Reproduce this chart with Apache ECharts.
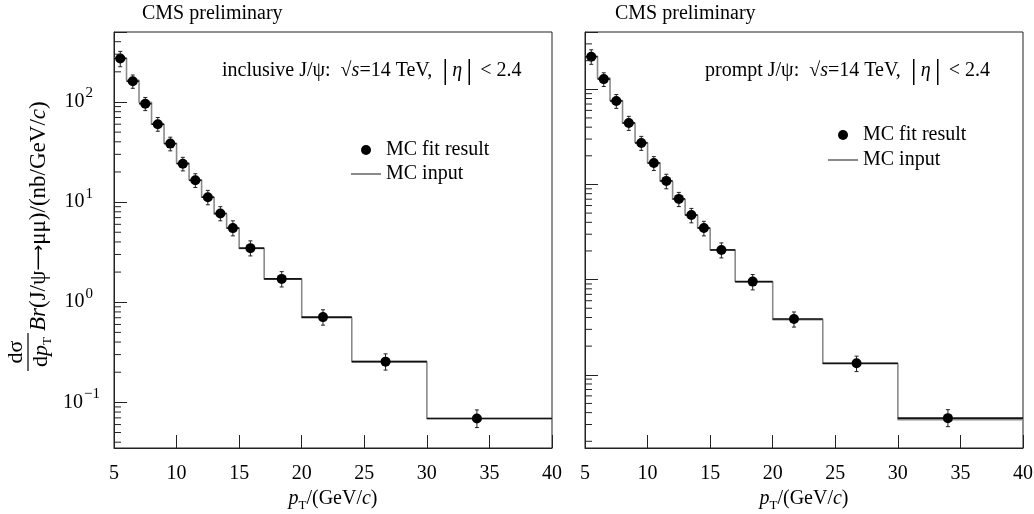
<!DOCTYPE html>
<html><head><meta charset="utf-8">
<script src="https://cdn.jsdelivr.net/npm/echarts@6/dist/echarts.min.js"></script>
<style>html,body{margin:0;padding:0;background:#fff}#c{width:1034px;height:514px}</style>
</head><body><div id="c"></div>
<script>
// ---- data ----
const binEdges = [5,6,7,8,9,10,11,12,13,14,15,17,20,24,30,40];
const meanPt = [5.5,6.5,7.5,8.5,9.5,10.5,11.5,12.5,13.5,14.5,15.9,18.4,21.7,26.7,34.0];

const inclFit   = [272,161,96,60,38.4,24.2,16.5,11.2,7.7,5.5,3.47,1.71,0.71,0.255,0.069];
const inclFitLo = [225,137,82,51,32.5,20.5,14.0,9.4,6.5,4.6,2.9,1.42,0.59,0.21,0.056];
const inclFitHi = [320,186,111,70,44.5,28,19.2,13.1,9.0,6.5,4.1,2.02,0.84,0.305,0.084];
const inclMC    = [275,165,99,60,38.5,24.5,16.6,11.2,7.6,5.5,3.45,1.70,0.70,0.255,0.069];

const promptFit   = [220,128,75.3,44.3,27.3,16.8,10.9,7.05,4.78,3.49,2.05,0.953,0.386,0.132,0.035];
const promptFitLo = [183,107,63,37,22.8,14.0,9.0,5.85,3.95,2.88,1.69,0.78,0.317,0.108,0.0285];
const promptFitHi = [260,149,88,52,32,19.6,12.8,8.25,5.6,4.1,2.43,1.13,0.457,0.157,0.043];
const promptMC    = [222,131,76,44,27.5,16.8,10.8,7.0,4.75,3.47,2.05,0.95,0.38,0.131,0.0338];

const xTickValues = [5,10,15,20,25,30,35,40];
const yRangeIncl = [0.035, 500];
const yRangePrompt = [0.017, 400];
const minorTicksIncl = [0.04,0.05,0.06,0.07,0.08,0.09,0.2,0.3,0.4,0.5,0.6,0.7,0.8,0.9,2,3,4,5,6,7,8,9,20,30,40,50,60,70,80,90,200,300,400];
const minorTicksPrompt = [0.02,0.03,0.04,0.05,0.06,0.07,0.08,0.09,0.2,0.3,0.4,0.5,0.6,0.7,0.8,0.9,2,3,4,5,6,7,8,9,20,30,40,50,60,70,80,90,200,300];

// ---- chart ----
const FONT = 'Liberation Serif';
const INK = '#000';
const chart = echarts.init(document.getElementById('c'));

function stepData(vals){
  const d = [];
  for (let i = 0; i < vals.length; i++) d.push([binEdges[i], vals[i]]);
  d.push([binEdges[binEdges.length-1], vals[vals.length-1]]);
  return d;
}
function errData(v, lo, hi){
  return v.map((y,i) => [meanPt[i], y, lo[i], hi[i], binEdges[i], binEdges[i+1]]);
}
function renderErr(params, api){
  const x = api.value(0), y = api.value(1), lo = api.value(2), hi = api.value(3);
  const e0 = api.value(4), e1 = api.value(5);
  const pLo = api.coord([x, lo]), pHi = api.coord([x, hi]);
  const pL = api.coord([e0, y]), pR = api.coord([e1, y]);
  const st = {stroke: '#222', lineWidth: 1};
  return {type: 'group', children: [
    {type: 'line', shape: {x1: pL[0], y1: pL[1], x2: pR[0], y2: pR[1]}, style: {stroke: '#111', lineWidth: 1.6}},
    {type: 'line', shape: {x1: pLo[0], y1: pLo[1], x2: pHi[0], y2: pHi[1]}, style: st},
    {type: 'line', shape: {x1: pLo[0]-2, y1: pLo[1], x2: pLo[0]+2, y2: pLo[1]}, style: st},
    {type: 'line', shape: {x1: pHi[0]-2, y1: pHi[1], x2: pHi[0]+2, y2: pHi[1]}, style: st}
  ]};
}
function renderMinor(params, api){
  const p = api.coord([api.value(0), api.value(1)]);
  return {type: 'line', shape: {x1: p[0], y1: p[1], x2: p[0]+7, y2: p[1]}, style: {stroke: '#222', lineWidth: 1}};
}
function logLabel(v){
  const e = Math.log10(v), r = Math.round(e);
  if (Math.abs(e - r) > 1e-6) return '';
  return r < 0 ? '{b|10}{m|\u2212' + (-r) + '}' : '{b|10}{s|' + r + '}';
}

const richBase = {
  it: {fontStyle: 'italic', fontFamily: FONT, fontSize: 20, lineHeight: 26, color: INK},
  n: {fontFamily: FONT, fontSize: 20, lineHeight: 26, color: INK},
  sub: {fontFamily: FONT, fontSize: 13, lineHeight: 13, verticalAlign: 'bottom', color: INK},
  big: {fontFamily: FONT, fontSize: 30, lineHeight: 30, color: INK},
  arr: {fontFamily: 'DejaVu Sans', fontSize: 18, lineHeight: 26, color: INK},
  yn: {fontFamily: FONT, fontSize: 23, lineHeight: 28, color: INK},
  yit: {fontFamily: FONT, fontStyle: 'italic', fontSize: 23, lineHeight: 28, color: INK},
  fr: {fontFamily: FONT, fontSize: 22, lineHeight: 26, color: INK},
  frit: {fontFamily: FONT, fontStyle: 'italic', fontSize: 22, lineHeight: 26, color: INK}
};

function xAxisDef(gi){
  return {
    type: 'value', gridIndex: gi, min: 5, max: 40, interval: 5,
    axisLine: {show: true, lineStyle: {color: '#222', width: 1}},
    axisTick: {show: true, inside: true, length: 13, lineStyle: {color: '#222', width: 1}},
    axisLabel: {margin: 16, fontFamily: FONT, fontSize: 20, color: INK,
      formatter: v => xTickValues.indexOf(v) >= 0 ? String(v) : ''},
    splitLine: {show: false},
    name: '{it|p}{sub|T}{n|/(GeV/}{it|c}{n|)}',
    nameLocation: 'middle', nameGap: 37,
    nameTextStyle: {rich: richBase}
  };
}
function yAxisDef(gi, range, labels){
  return {
    type: 'log', logBase: 10, gridIndex: gi, min: range[0], max: range[1],
    axisLine: {show: true, lineStyle: {color: '#222', width: 1}},
    axisTick: {show: true, inside: true, length: 13, lineStyle: {color: '#222', width: 1}},
    axisLabel: {show: labels, margin: 14, formatter: logLabel,
      rich: {
        b: {fontFamily: FONT, fontSize: 20, lineHeight: 32, color: INK},
        s: {fontFamily: FONT, fontSize: 15, lineHeight: 16, verticalAlign: 'top', padding: [0, 7, 0, 1], color: INK},
        m: {fontFamily: FONT, fontSize: 15, lineHeight: 16, verticalAlign: 'top', padding: [0, 0, 0, 1], color: INK}
      }},
    splitLine: {show: false},
    minorTick: {show: false}
  };
}
function legendDef(left, top, gap){
  return {
    left: left, top: top, orient: 'vertical', itemWidth: 30, itemHeight: 10, itemGap: gap,
    selectedMode: false,
    data: [{name: 'MC fit result', icon: 'circle', itemStyle: {color: INK, opacity: 1}},
           {name: 'MC input', itemStyle: {opacity: 0}}],
    textStyle: {fontFamily: FONT, fontSize: 20, color: INK, lineHeight: 20}
  };
}
function panelSeries(gi, fit, lo, hi, mc, minor){
  return [
    {type: 'line', name: 'MC input', xAxisIndex: gi, yAxisIndex: gi, data: stepData(mc), step: 'end',
      symbol: 'none', showSymbol: false, lineStyle: {color: '#8a8a8a', width: 1.6}, itemStyle: {color: '#8a8a8a'}, z: 2},
    {type: 'custom', name: 'err' + gi, xAxisIndex: gi, yAxisIndex: gi, data: errData(fit, lo, hi),
      encode: {x: 0, y: 1}, renderItem: renderErr, z: 3, silent: true},
    {type: 'scatter', name: 'MC fit result', xAxisIndex: gi, yAxisIndex: gi,
      data: fit.map((y,i) => [meanPt[i], y]), symbol: 'circle', symbolSize: 10,
      itemStyle: {color: INK, opacity: 1}, z: 4},
    {type: 'custom', name: 'minor' + gi, xAxisIndex: gi, yAxisIndex: gi,
      data: minor.map(v => [5, v]), encode: {x: 0, y: 1}, renderItem: renderMinor, z: 5, silent: true}
  ];
}

const txt = (x, y, text, extra) => ({
  type: 'text', x: x, y: y,
  style: Object.assign({text: text, rich: richBase, fontFamily: FONT, fontSize: 20, fill: INK, align: 'left', verticalAlign: 'middle'}, extra || {})
});
const TS = '\u2009';
const annot = (lead) => '{n|' + lead + ' J/\u03c8:  \u221a}{it|s}{n|=14 TeV,  }{big||}{it|' + TS + '\u03b7' + TS + '}{big||}{n|' + TS + TS + '< 2.4}';

const option = {
  animation: false,
  backgroundColor: '#fff',
  grid: [
    {left: 114, right: 482, top: 32, bottom: 66, show: true, borderColor: '#222', borderWidth: 1,
      backgroundColor: 'transparent', outerBoundsMode: 'none', containLabel: false},
    {left: 585, right: 11, top: 32, bottom: 66, show: true, borderColor: '#222', borderWidth: 1,
      backgroundColor: 'transparent', outerBoundsMode: 'none', containLabel: false}
  ],
  xAxis: [xAxisDef(0), xAxisDef(1)],
  yAxis: [yAxisDef(0, yRangeIncl, true), yAxisDef(1, yRangePrompt, false)],
  legend: [legendDef(345, 135, 4), legendDef(822, 120, 5)],
  series: [].concat(
    panelSeries(0, inclFit, inclFitLo, inclFitHi, inclMC, minorTicksIncl),
    panelSeries(1, promptFit, promptFitLo, promptFitHi, promptMC, minorTicksPrompt)
  ),
  graphic: [
    txt(142, 14, 'CMS preliminary'),
    txt(615, 14, 'CMS preliminary'),
    txt(222, 71, annot('inclusive')),
    txt(705, 71, annot('prompt')),
    // y-axis title: fraction d sigma / d pT followed by the rest
    Object.assign(txt(16, 352, '{fr|d\u03c3}', {align: 'center'}), {rotation: Math.PI/2}),
    {type: 'line', shape: {x1: 28, y1: 333, x2: 28, y2: 371}, style: {stroke: INK, lineWidth: 1.2}},
    Object.assign(txt(41, 352, '{fr|d}{frit|p}{sub|T}', {align: 'center'}), {rotation: Math.PI/2}),
    Object.assign(txt(39, 331, '{yit|Br}{yn|(J/\u03c8}{arr|\u27f6}{yn|\u03bc\u03bc)/(nb/GeV/}{yit|c}{yn|)}', {align: 'left'}), {rotation: Math.PI/2})
  ]
};
chart.setOption(option);
</script>
</body></html>
